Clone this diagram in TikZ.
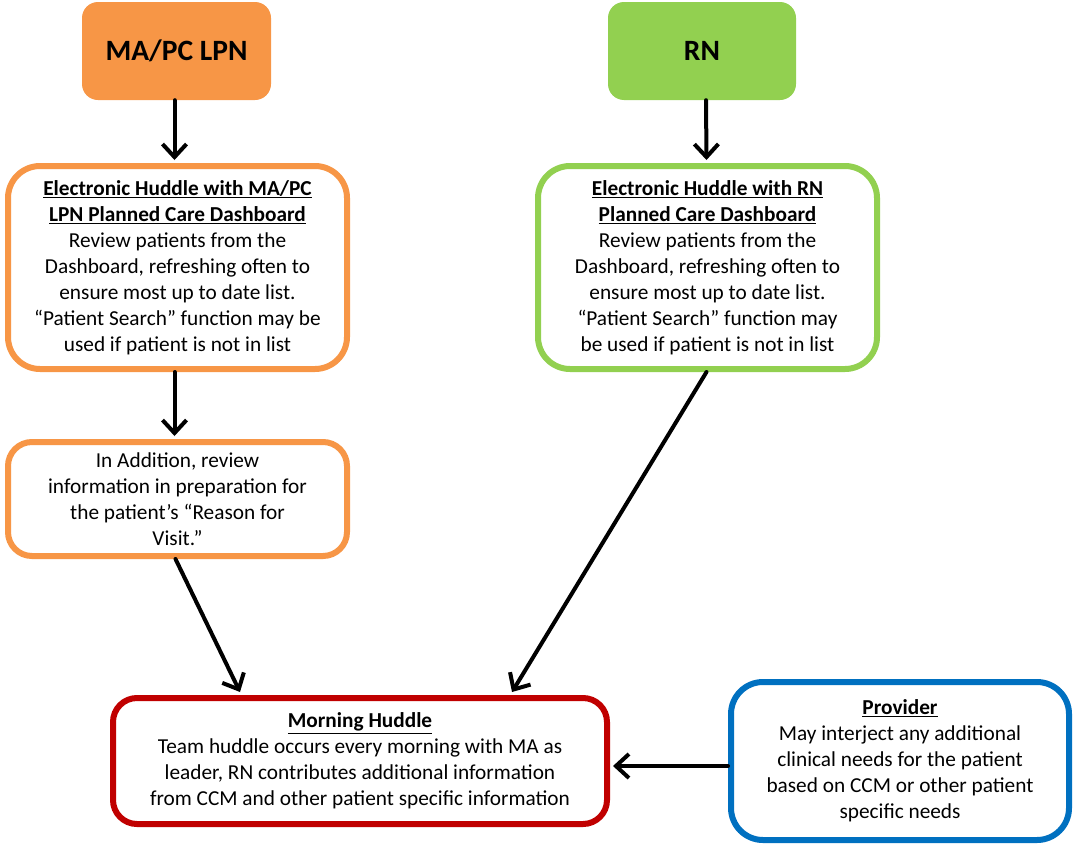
\documentclass[tikz,border=0pt]{standalone}
\usepackage{fontspec}
\setmainfont{Carlito}
\usetikzlibrary{positioning}
\usetikzlibrary{calc}
\usetikzlibrary{arrows.meta}
\definecolor{maorange}{HTML}{F79646}
\definecolor{rngreen}{HTML}{92D050}
\definecolor{hudred}{HTML}{C00000}
\definecolor{provblue}{HTML}{0070C0}
\tikzset{
	every node/.style={align=center, inner sep=0pt},
	role/.style={rectangle, rounded corners=16pt, font=\fontsize{29.5}{34}\selectfont\bfseries},
	step box/.style={rectangle, draw, fill=white, line width=6pt, rounded corners=32pt, font=\fontsize{21.3}{26}\selectfont},
	flow/.style={-{Straight Barb[length=13pt,width=24pt,line width=4pt]}, line width=4pt, line cap=round}
}
\newcommand{\hd}[1]{\underline{\textbf{#1}}}

\begin{document}
\begin{tikzpicture}[x=1pt, y=-1pt]
	\useasboundingbox (0,0) rectangle (1075,846);

	\node (ma) [role, fill=maorange, minimum width=189pt, minimum height=98pt] at (176.5,51) {MA/PC LPN};
	\node (rn) [role, fill=rngreen, minimum width=188pt, minimum height=98pt] at (702,51) {RN};

	\node (e1) [step box, draw=maorange, minimum width=339pt, minimum height=203pt] at (177.5,267.5)
		{\hd{Electronic Huddle with MA/PC}\\ \hd{LPN Planned Care Dashboard}\\ Review patients from the\\ Dashboard, refreshing often to\\ ensure most up to date list.\\ “Patient Search” function may be\\ used if patient is not in list};
	\node (e2) [step box, draw=rngreen, minimum width=339pt, minimum height=203pt] at (707.5,267.5)
		{\hd{Electronic Huddle with RN}\\ \hd{Planned Care Dashboard}\\ Review patients from the\\ Dashboard, refreshing often to\\ ensure most up to date list.\\ “Patient Search” function may\\ be used if patient is not in list};
	\node (add) [step box, draw=maorange, rounded corners=24pt, minimum width=339pt, minimum height=114pt] at (177.5,499)
		{In Addition, review\\ information in preparation for\\ the patient’s “Reason for\\ Visit.”};
	\node (morning) [step box, draw=hudred, rounded corners=24pt, minimum width=494pt, minimum height=126pt] at (360,761)
		{\hd{Morning Huddle}\\ Team huddle occurs every morning with MA as\\ leader, RN contributes additional information\\ from CCM and other patient specific information};
	\node (prov) [step box, draw=provblue, minimum width=338pt, minimum height=158pt] at (900,761)
		{\hd{Provider}\\ May interject any additional\\ clinical needs for the patient\\ based on CCM or other patient\\ specific needs};

	\draw[flow] ([xshift=-2pt]ma.south) -- ([xshift=-3pt,yshift=3pt]e1.north);
	\draw[flow] ([xshift=4pt]rn.south) -- ([xshift=-1pt,yshift=3pt]e2.north);
	\draw[flow] ([xshift=-3pt]e1.south) -- ([xshift=-3pt,yshift=3pt]add.north);
	\draw[flow] ([xshift=-2pt]add.south) -- ([xshift=-120pt,yshift=3pt]morning.north);
	\draw[flow] ([xshift=-1pt]e2.south) -- ([xshift=152pt,yshift=3pt]morning.north);
	\draw[flow] ([yshift=-5pt]prov.west) -- ([xshift=3pt,yshift=-5pt]prov.west -| morning.east);
\end{tikzpicture}
\end{document}
